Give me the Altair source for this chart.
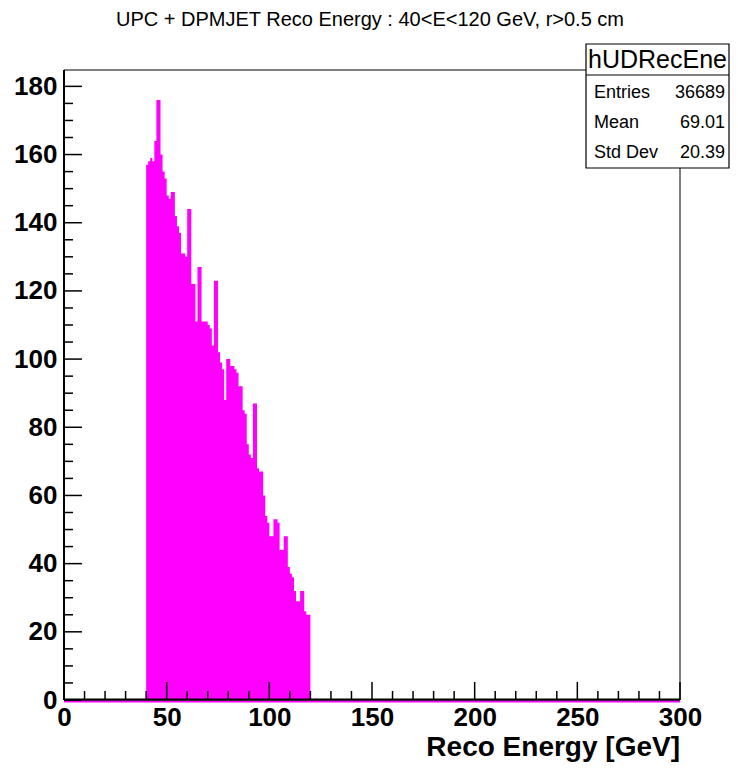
import altair as alt
import pandas as pd

# ---------------- data ----------------
TITLE = "UPC + DPMJET Reco Energy : 40<E<120 GeV, r>0.5 cm"
X_TITLE = "Reco Energy [GeV]"

BIN_LOW = 40      # lower edge of first filled bin [GeV]
BIN_WIDTH = 1     # GeV
COUNTS = [157, 158, 159, 158, 164, 176, 176, 160, 155, 153,
          148, 147, 149, 149, 142, 139, 137, 131, 131, 130,
          144, 144, 122, 122, 111, 127, 127, 111, 111, 111,
          110, 109, 104, 123, 123, 102, 99, 97, 88, 100,
          100, 98, 98, 97, 96, 92, 92, 85, 84, 75,
          72, 71, 87, 87, 68, 67, 67, 60, 54, 52,
          48, 48, 53, 53, 52, 44, 44, 48, 48, 39,
          37, 36, 32, 29, 29, 32, 32, 26, 25, 25]

X_RANGE = [0, 300]
Y_MAX = 184.8
X_MAJOR = [0, 50, 100, 150, 200, 250, 300]
X_MINOR = [10, 20, 30, 40, 60, 70, 80, 90, 110, 120, 130, 140, 160, 170, 180, 190,
           210, 220, 230, 240, 260, 270, 280, 290]
Y_MAJOR = [0, 20, 40, 60, 80, 100, 120, 140, 160, 180]
Y_MINOR = [5, 10, 15, 25, 30, 35, 45, 50, 55, 65, 70, 75, 85, 90, 95, 105, 110, 115,
           125, 130, 135, 145, 150, 155, 165, 170, 175]

STAT_NAME = "hUDRecEne"
STAT_LABELS = ["Entries", "Mean", "Std Dev"]
STAT_VALUES = ["36689", "69.01", "20.39"]

# ---------------- layout ----------------
W, H = 616, 630
FONT = "Liberation Sans"
MAGENTA = "#ff00ff"

edges = [BIN_LOW + i * BIN_WIDTH for i in range(len(COUNTS))]
hist_df = pd.DataFrame({"e": edges + [edges[-1] + BIN_WIDTH],
                        "n": COUNTS + [COUNTS[-1]]})

xs = alt.Scale(domain=X_RANGE, nice=False, zero=False)
ys = alt.Scale(domain=[0, Y_MAX], nice=False)

x_axis = alt.Axis(values=X_MAJOR, title=None, ticks=False, domain=False, grid=False,
                  labelFont=FONT, labelFontWeight="bold", labelFontSize=26,
                  labelColor="black", labelPadding=4, labelFlush=False,
                  labelOverlap=False, format="d")
y_axis = alt.Axis(values=Y_MAJOR, title=None, ticks=False, domain=False, grid=False,
                  labelFont=FONT, labelFontWeight="bold", labelFontSize=26,
                  labelColor="black", labelPadding=7, labelOverlap=False, format="d")

ONE = pd.DataFrame({"k": [0]})

hist = alt.Chart(hist_df).mark_area(interpolate="step-after", color=MAGENTA,
                                    opacity=1).encode(
    x=alt.X("e:Q", scale=xs, axis=x_axis),
    y=alt.Y("n:Q", scale=ys, axis=y_axis),
)

zero_line = alt.Chart(pd.DataFrame({"a": [X_RANGE[0]], "b": [X_RANGE[1]]})).mark_rule(
    color=MAGENTA, strokeWidth=2).encode(
    x=alt.X("a:Q", scale=xs), x2="b:Q", y=alt.value(H + 1.5))

frame = alt.Chart(ONE).mark_rect(
    fill=None, stroke="black", strokeWidth=1).encode(
    x=alt.value(0), x2=alt.value(W), y=alt.value(0), y2=alt.value(H))
left_line = alt.Chart(ONE).mark_rule(color="black", strokeWidth=2).encode(
    x=alt.value(0), y=alt.value(0), y2=alt.value(H))
bottom_line = alt.Chart(ONE).mark_rule(color="black", strokeWidth=2).encode(
    x=alt.value(0), x2=alt.value(W), y=alt.value(H - 0.5))

xmaj = alt.Chart(pd.DataFrame({"v": X_MAJOR})).mark_rule(color="black", strokeWidth=1.5).encode(
    x=alt.X("v:Q", scale=xs), y=alt.value(H), y2=alt.value(H - 18))
xmin = alt.Chart(pd.DataFrame({"v": X_MINOR})).mark_rule(color="black", strokeWidth=1.5).encode(
    x=alt.X("v:Q", scale=xs), y=alt.value(H), y2=alt.value(H - 9))
ymaj = alt.Chart(pd.DataFrame({"v": Y_MAJOR})).mark_rule(color="black", strokeWidth=1.5).encode(
    y=alt.Y("v:Q", scale=ys), x=alt.value(0), x2=alt.value(18))
ymin = alt.Chart(pd.DataFrame({"v": Y_MINOR})).mark_rule(color="black", strokeWidth=1.5).encode(
    y=alt.Y("v:Q", scale=ys), x=alt.value(0), x2=alt.value(9))

title = alt.Chart(pd.DataFrame({"t": [TITLE]})).mark_text(
    font=FONT, fontSize=20, align="center", baseline="alphabetic", color="black").encode(
    text="t:N", x=alt.value(306), y=alt.value(-44))

xtitle = alt.Chart(pd.DataFrame({"t": [X_TITLE]})).mark_text(
    font=FONT, fontSize=28, fontWeight="bold", align="right", baseline="alphabetic",
    color="black").encode(text="t:N", x=alt.value(W), y=alt.value(686))

# stats box
BX0, BX1, BY0, BY1 = 522, 665, -26, 98
box = alt.Chart(ONE).mark_rect(fill="white", stroke="black", strokeWidth=1.2).encode(
    x=alt.value(BX0), x2=alt.value(BX1), y=alt.value(BY0), y2=alt.value(BY1))
box_sep = alt.Chart(ONE).mark_rule(color="black", strokeWidth=1.2).encode(
    x=alt.value(BX0), x2=alt.value(BX1), y=alt.value(5))
box_head = alt.Chart(pd.DataFrame({"t": [STAT_NAME]})).mark_text(
    font=FONT, fontSize=25, align="center", baseline="alphabetic", color="black").encode(
    text="t:N", x=alt.value((BX0 + BX1) / 2), y=alt.value(-2))

box_rows = []
for i, (lab, val) in enumerate(zip(STAT_LABELS, STAT_VALUES)):
    ypix = 28 + 30 * i
    box_rows.append(alt.Chart(pd.DataFrame({"t": [lab]})).mark_text(
        font=FONT, fontSize=18, align="left", baseline="alphabetic", color="black").encode(
        text="t:N", x=alt.value(BX0 + 8), y=alt.value(ypix)))
    box_rows.append(alt.Chart(pd.DataFrame({"t": [val]})).mark_text(
        font=FONT, fontSize=18, align="right", baseline="alphabetic", color="black").encode(
        text="t:N", x=alt.value(BX1 - 4), y=alt.value(ypix)))

chart = alt.layer(
    hist, zero_line, frame, left_line, bottom_line, xmaj, xmin, ymaj, ymin,
    title, xtitle, box, box_sep, box_head, *box_rows
).properties(
    width=W, height=H,
    autosize=alt.AutoSizeParams(type="none"),
    padding={"left": 56, "top": 62, "right": 50, "bottom": 64},
    background="white",
).configure_view(strokeWidth=0)

chart.save("out.html", embed_options={"renderer": "svg", "actions": False})
